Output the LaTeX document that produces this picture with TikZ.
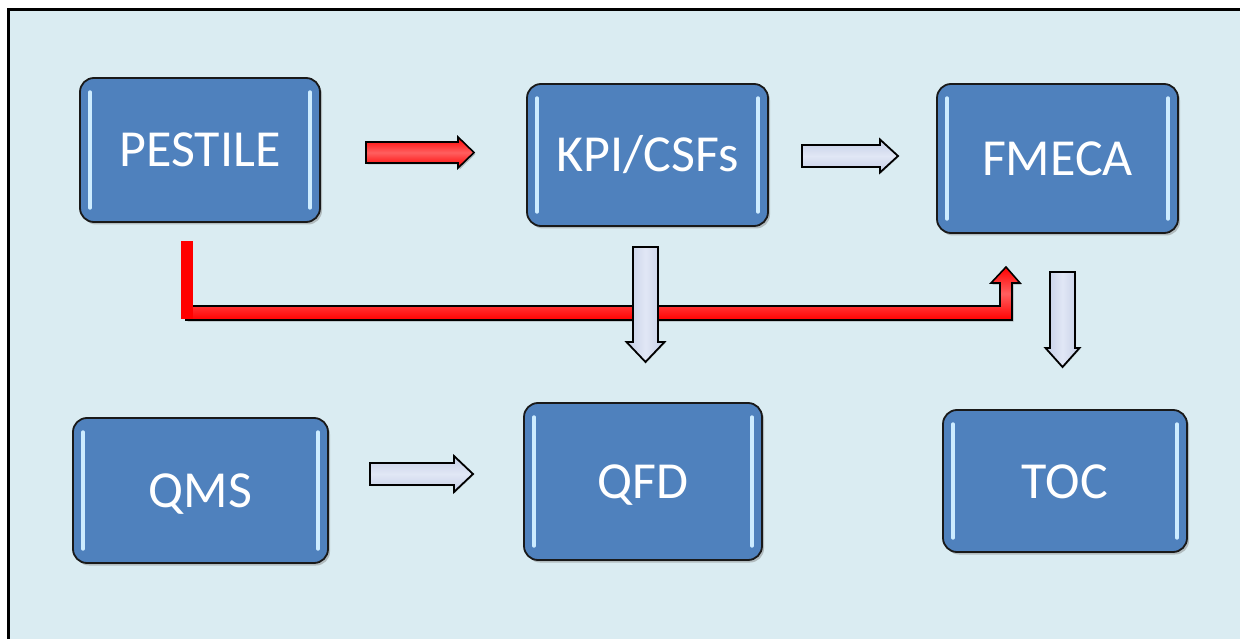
\documentclass[tikz,border=0pt]{standalone}
\usepackage{fontspec}
\setmainfont{Carlito}
\usetikzlibrary{shadows}

\definecolor{panel}{RGB}{218,236,242}
\definecolor{boxblue}{RGB}{79,129,189}
\definecolor{boxedge}{RGB}{25,25,25}
\definecolor{gleam}{RGB}{205,236,255}
\definecolor{arrowgray}{RGB}{196,206,230}
\definecolor{arrowlight}{RGB}{225,231,245}
\definecolor{redlight}{RGB}{255,95,95}

\tikzset{
  stagebox/.style={draw=boxedge, line width=1.8pt, fill=boxblue, rounded corners=14pt,
    minimum width=#1, text=white, font=\fontsize{52}{60}\selectfont,
    text height=34pt, text depth=0pt,
    drop shadow={shadow xshift=2pt, shadow yshift=-2.5pt, opacity=0.45}},
  gleamline/.style={draw=gleam, line width=3.6pt, line cap=round},
  grayarrow/.style={draw=black, line width=1.8pt, line join=miter,
    drop shadow={shadow xshift=1pt, shadow yshift=-1pt, opacity=0.25}},
  grayarrowH/.style={grayarrow, top color=arrowgray, bottom color=arrowgray, middle color=arrowlight},
  grayarrowV/.style={grayarrow, left color=arrowgray, right color=arrowgray, middle color=arrowlight},
  redarrow/.style={draw=black, line width=1.6pt, line join=miter,
    top color=red, bottom color=red, middle color=redlight,
    drop shadow={shadow xshift=1.5pt, shadow yshift=-1.5pt, opacity=0.5}},
}

% horizontal block arrow: style, x start, x tip, y centre, body half, head half, head length
\newcommand\hblockarrow[7]{%
  \path[#1] (#2,{#4-#5}) -- ({#3-#7},{#4-#5}) -- ({#3-#7},{#4-#6}) -- (#3,#4)
    -- ({#3-#7},{#4+#6}) -- ({#3-#7},{#4+#5}) -- (#2,{#4+#5}) -- cycle;}
% vertical block arrow pointing down: style, x centre, y start, y tip, body half, head half, head length
\newcommand\vblockarrow[7]{%
  \path[#1] ({#2-#5},#3) -- ({#2+#5},#3) -- ({#2+#5},{#4-#7}) -- ({#2+#6},{#4-#7}) -- (#2,#4)
    -- ({#2-#6},{#4-#7}) -- ({#2-#5},{#4-#7}) -- cycle;}
% box with light vertical gleams on both sides
\newcommand\stage[6]{% name, x centre, y centre, width, height, text
  \node[stagebox=#4, minimum height=#5] (#1) at (#2,#3) {#6};
  \draw[gleamline] ([xshift=11pt,yshift=-15pt]#1.north west) -- ([xshift=11pt,yshift=15pt]#1.south west);
  \draw[gleamline] ([xshift=-11pt,yshift=-15pt]#1.north east) -- ([xshift=-11pt,yshift=15pt]#1.south east);}

\begin{document}
\begin{tikzpicture}[x=1pt,y=-1pt]
  \useasboundingbox (0,0) rectangle (1240,639);
  \fill[white] (0,0) rectangle (1240,639);
  \fill[panel] (7,9) rectangle (1240,639);
  \draw[black, line width=3pt] (8,639) -- (8,9.5) -- (1240,9.5);

  % stages
  \stage{pestile}{200}{150}{240pt}{144pt}{PESTILE}
  \stage{kpi}{647.5}{155}{241pt}{142pt}{KPI/CSFs}
  \stage{fmeca}{1057.5}{158.5}{241pt}{149pt}{FMECA}
  \stage{qms}{200.5}{490.5}{255pt}{145pt}{QMS}
  \stage{qfd}{643}{481.5}{238pt}{157pt}{QFD}
  \stage{toc}{1065}{481}{244pt}{142pt}{TOC}

  % red link from PESTILE to FMECA
  \path[redarrow] (186,306) -- (1000,306) -- (1000,283) -- (991,283) -- (1006,267)
    -- (1020,283) -- (1012,283) -- (1012,320) -- (186,320) -- cycle;
  \fill[red] (181,241) rectangle (193,319);

  % block arrows between stages
  \hblockarrow{redarrow}{366}{474}{152.5}{10.5}{15.5}{16}
  \hblockarrow{grayarrowH}{802}{898}{156}{11}{16.5}{18}
  \hblockarrow{grayarrowH}{370}{473}{474}{11}{18}{19}
  \vblockarrow{grayarrowV}{645.5}{247}{362}{12.5}{19}{20}
  \vblockarrow{grayarrowV}{1062.5}{272}{367}{12.5}{17}{19}
\end{tikzpicture}
\end{document}
